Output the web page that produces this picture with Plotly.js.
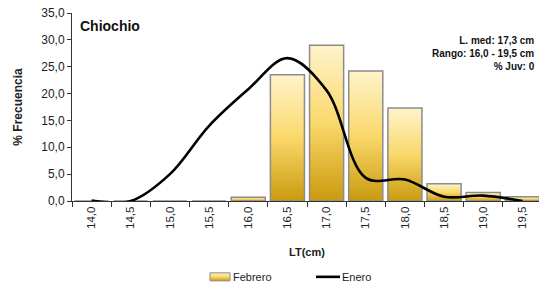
<!DOCTYPE html>
<html><head><meta charset="utf-8">
<script src="https://cdn.plot.ly/plotly-3.0.1.min.js"></script>
<style>html,body{margin:0;padding:0;overflow:hidden;background:#fff}#chart{width:545px;height:286px}</style>
</head><body><div id="chart"></div>
<script>
const categories = ["14,0","14,5","15,0","15,5","16,0","16,5","17,0","17,5","18,0","18,5","19,0","19,5"];
const febrero = [0, 0, 0, 0, 0.7, 23.5, 29.0, 24.2, 17.3, 3.2, 1.6, 0.8];
const enero = [0.1, 0, 5.0, 14.0, 20.8, 26.6, 20.6, 4.3, 4.0, 0.8, 1.0, 0];
const yTicks = [0,5,10,15,20,25,30,35];
const yTickText = ["0,0","5,0","10,0","15,0","20,0","25,0","30,0","35,0"];
const titleText = "Chiochio";
const statsText = "L. med: 17,3 cm<br>Rango: 16,0 - 19,5 cm<br>% Juv: 0";

const font = "Liberation Sans, Arial, sans-serif";
const traces = [
  {type:"bar", name:"Febrero", x:categories, y:febrero,
   marker:{color:"#EDC44E", line:{color:"#8c8c8c", width:1.5}}},
  {type:"scatter", mode:"lines", name:"Enero", x:categories, y:enero,
   line:{color:"#000", width:2.6, shape:"spline", smoothing:1}}
];
const layout = {
  width:545, height:286,
  margin:{l:72, r:3, t:13, b:85, autoexpand:false},
  paper_bgcolor:"#fff", plot_bgcolor:"#fff",
  font:{family:font, size:11, color:"#222"},
  bargap:0.13,
  showlegend:true,
  legend:{orientation:"h", xref:"container", x:0.545, xanchor:"center", yref:"container", y:0.032, yanchor:"middle",
          font:{family:font, size:11, color:"#222"}, traceorder:"normal"},
  xaxis:{type:"category", tickangle:-90, ticks:"outside", tickson:"boundaries", ticklen:5, automargin:false,
         tickcolor:"#333", showline:true, linecolor:"#333", linewidth:1, showgrid:false,
         tickfont:{family:font, size:11.5, color:"#222"},
         title:{text:"<b>LT(cm)</b>", font:{family:font, size:11, color:"#222"}, standoff:20}},
  yaxis:{range:[0,35], tickvals:yTicks, ticktext:yTickText, ticks:"outside", ticklen:4, automargin:false,
         tickcolor:"#333", showline:true, linecolor:"#333", linewidth:1, showgrid:false, zeroline:false,
         tickfont:{family:font, size:12, color:"#222"},
         title:{text:"<b>% Frecuencia</b>", font:{family:font, size:12, color:"#222"}, standoff:16}},
  annotations:[
    {xref:"paper", yref:"paper", x:0.012, y:0.985, xanchor:"left", yanchor:"top", showarrow:false,
     text:"<b>"+titleText+"</b>", font:{family:font, size:14, color:"#111"}},
    {xref:"paper", yref:"paper", x:(537-72)/470, y:0.895, xanchor:"right", yanchor:"top", showarrow:false,
     align:"right", text:"<b>"+statsText+"</b>", font:{family:font, size:10, color:"#111"}}
  ]
};
Plotly.newPlot("chart", traces, layout, {staticPlot:true}).then(function(gd){
  const svg = gd.querySelector("svg.main-svg");
  const ns = "http://www.w3.org/2000/svg";
  let defs = svg.querySelector("defs");
  function grad(id){
    const g = document.createElementNS(ns, "linearGradient");
    g.setAttribute("id",id); g.setAttribute("x1","0"); g.setAttribute("y1","0");
    g.setAttribute("x2","0"); g.setAttribute("y2","1");
    [["0","#FFF3CC"],["0.5","#FAD86A"],["1","#C99A0E"]].forEach(function(s){
      const st = document.createElementNS(ns,"stop");
      st.setAttribute("offset", s[0]); st.setAttribute("stop-color", s[1]); g.appendChild(st);
    });
    defs.appendChild(g);
  }
  grad("barGrad"); grad("legGrad");
  gd.querySelectorAll(".barlayer .point path").forEach(function(p){ p.style.fill = "url(#barGrad)"; });
  gd.querySelectorAll(".legend [clip-path]").forEach(function(el){ el.removeAttribute("clip-path"); });
  const lg = gd.querySelector(".legend");
  if (lg && lg.hasAttribute("clip-path")) lg.removeAttribute("clip-path");
  const items = gd.querySelectorAll(".legend .traces");
  const targets = [210, 316];
  items.forEach(function(it, i){
    const txt = it.querySelector("text.legendtext");
    let sw;
    if (i === 0) {
      sw = it.querySelector(".legendpoints path");
      if (sw) { sw.setAttribute("d","M-15,-4h20v8h-20Z"); sw.style.fill = "url(#legGrad)"; sw.style.strokeWidth = "1px"; }
      if (txt) txt.setAttribute("x", "28");
    } else {
      sw = it.querySelector(".legendlines path");
      if (sw) sw.setAttribute("d","M5,0h24");
      if (txt) txt.setAttribute("x", "31");
    }
    if (sw) {
      const left = sw.getBoundingClientRect().left;
      const tr = it.getAttribute("transform") || "translate(0,0)";
      const m = tr.match(/translate\(\s*([-\d.]+)[ ,]+([-\d.]+)\s*\)/);
      const x0 = m ? parseFloat(m[1]) : 0, y0 = m ? parseFloat(m[2]) : 0;
      it.setAttribute("transform", "translate(" + (x0 + targets[i] - left) + "," + y0 + ")");
    }
  });
});
</script></body></html>
